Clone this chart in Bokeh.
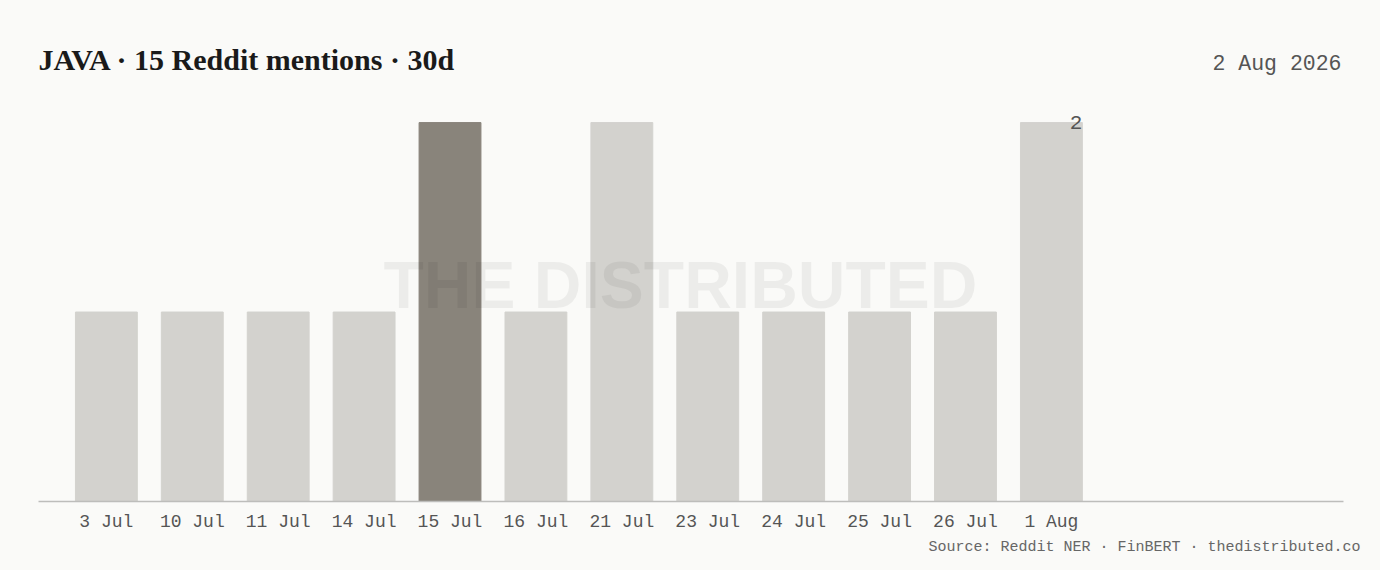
from bokeh.plotting import figure
from bokeh.models import ColumnDataSource, Range1d, FixedTicker, Label, Title
from bokeh.embed import file_html
from bokeh.resources import INLINE
from bokeh.core.properties import value

# ---- data ----
dates = ["3 Jul", "10 Jul", "11 Jul", "14 Jul", "15 Jul", "16 Jul",
         "21 Jul", "23 Jul", "24 Jul", "25 Jul", "26 Jul", "1 Aug"]
mentions = [1, 1, 1, 1, 2, 1, 2, 1, 1, 1, 1, 2]
highlight = "15 Jul"
ticker_name = "JAVA"
total_mentions = 15
window = "30d"
as_of = "2 Aug 2026"
source_note = "Source: Reddit NER \u00b7 FinBERT \u00b7 thedistributed.co"

BG = "#fafaf8"
LIGHT = "#d3d2ce"
DARK = "#89847b"
MONO = "Liberation Mono"

xs = list(range(len(dates)))
colors = [DARK if d == highlight else LIGHT for d in dates]
src = ColumnDataSource(dict(x=xs, top=mentions, color=colors))

p = figure(width=1380, height=562, output_backend="svg", toolbar_location=None,
           x_range=Range1d(-0.79, 14.40), y_range=Range1d(0, 2.486),
           y_axis_location=None, min_border_left=38, min_border_right=37,
           min_border_top=30, min_border_bottom=61)
p.background_fill_color = BG
p.border_fill_color = BG
p.outline_line_color = None
p.grid.visible = False

p.vbar(x="x", top="top", width=0.72, bottom=0, color="color", source=src)

# label for the last bar
last = len(dates) - 1
lab_src = ColumnDataSource(dict(x=[xs[last] + 0.36], y=[mentions[last]],
                                t=[str(mentions[last])]))
p.text(x="x", y="y", text="t", source=lab_src, text_align="right",
       text_baseline="middle", text_font=value(MONO), text_font_size="21px",
       text_color="#555555")

ax = p.xaxis[0]
ax.ticker = FixedTicker(ticks=xs)
ax.major_label_overrides = {i: d for i, d in zip(xs, dates)}
ax.axis_line_color = "#bdbdbb"
ax.axis_line_width = 1.5
ax.major_tick_line_color = None
ax.minor_tick_line_color = None
ax.major_tick_out = 0
ax.major_tick_in = 0
ax.major_label_standoff = 10
ax.major_label_text_font = MONO
ax.major_label_text_font_size = "18px"
ax.major_label_text_color = "#555555"

# watermark
p.add_layout(Label(x=642, y=217, x_units="screen", y_units="screen",
                   text="THE DISTRIBUTED", text_font="Liberation Sans",
                   text_font_style="bold", text_font_size="66px",
                   text_color="#000000", text_alpha=0.055,
                   text_align="center", text_baseline="middle"))

# title
p.add_layout(Label(x=0, y=442, x_units="screen", y_units="screen",
                   text=f"{ticker_name} \u00b7 {total_mentions} Reddit mentions \u00b7 {window}",
                   text_font="Liberation Serif", text_font_style="bold",
                   text_font_size="30px", text_color="#1a1a1a",
                   text_baseline="alphabetic"))
# date
p.add_layout(Label(x=1303, y=438, x_units="screen", y_units="screen",
                   text=as_of, text_font=MONO, text_font_size="21.5px",
                   text_color="#555555", text_align="right",
                   text_baseline="alphabetic"))
# footer
p.add_layout(Title(text=source_note, align="right", text_font=MONO,
                   text_font_size="15px", text_font_style="normal",
                   text_color="#666666", offset=-17, standoff=5), "below")

html = file_html(p, INLINE)
html = html.replace("<head>", "<head><style>body{background:%s}</style>" % BG, 1)
open("out.html", "w").write(html)
